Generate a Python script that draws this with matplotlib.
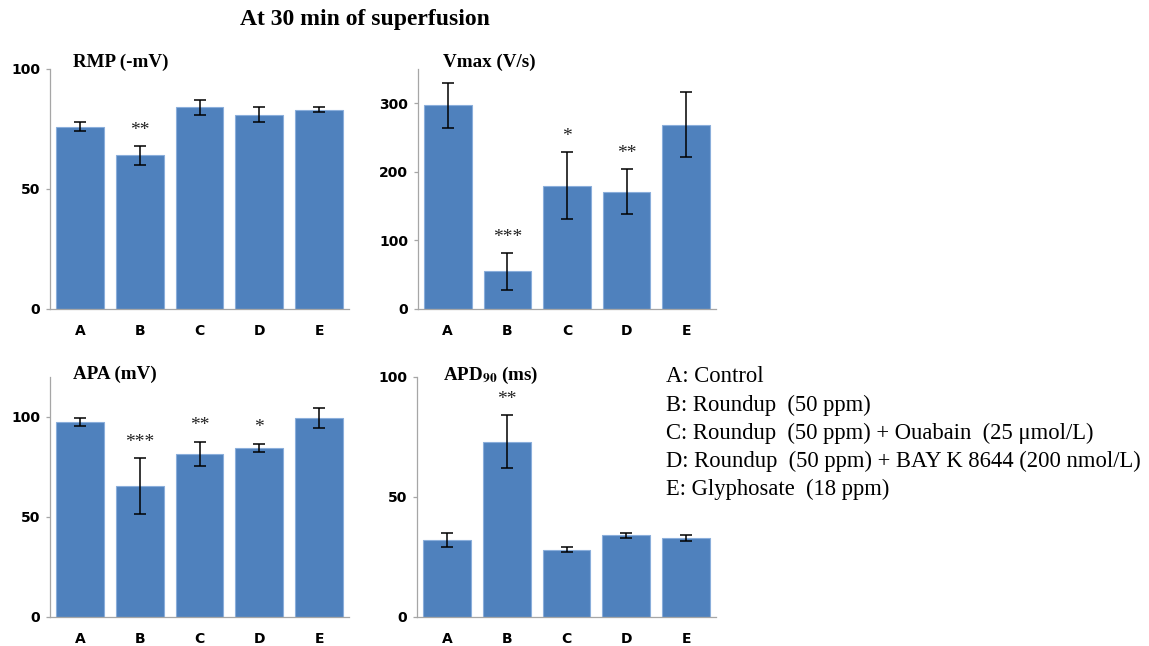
import numpy as np
import matplotlib.pyplot as plt

plt.rcParams['mathtext.fontset'] = 'stix'

groups = ['A', 'B', 'C', 'D', 'E']

rmp = [76, 64, 84, 81, 83]
rmp_err = [2, 4, 3, 3, 1]
rmp_stars = ['', '**', '', '', '']

vmax = [297, 55, 180, 171, 269]
vmax_err = [33, 27, 49, 33, 48]
vmax_stars = ['', '***', '*', '**', '']

apa = [97.5, 65.5, 81.7, 84.7, 99.5]
apa_err = [2, 14, 6, 2, 5]
apa_stars = ['', '***', '**', '*', '']

apd90 = [32, 73, 28, 34, 33]
apd90_err = [3, 11, 1, 1, 1.2]
apd90_stars = ['', '**', '', '', '']

legend_lines = ['A: Control',
                'B: Roundup  (50 ppm)',
                'C: Roundup  (50 ppm) + Ouabain  (25 \u03bcmol/L)',
                'D: Roundup  (50 ppm) + BAY K 8644 (200 nmol/L)',
                'E: Glyphosate  (18 ppm)']

W, H = 1149, 646
fig = plt.figure(figsize=(W / 100, H / 100), dpi=100)

def px(x, y):
    return x / W, 1 - y / H

def panel(left, top, right, bottom, vals, errs, stars, ymax, yticks, title, tx, ty):
    ax = fig.add_axes([left / W, 1 - bottom / H, (right - left) / W, (bottom - top) / H])
    x = np.arange(len(groups))
    ax.bar(x, vals, width=0.8, color='#4f81bd', edgecolor='#8aaedb', linewidth=0.8,
           yerr=errs, error_kw=dict(ecolor='black', elinewidth=1.1, capsize=4, capthick=1.1))
    for i in range(len(groups)):
        if stars[i]:
            ax.annotate(stars[i], (x[i], vals[i] + errs[i]), xytext=(0, 8),
                        textcoords='offset points', ha='center', va='baseline',
                        family='Liberation Serif', fontsize=14, color='#222222')
    ax.set_xlim(-0.5, len(groups) - 0.5)
    ax.set_ylim(0, ymax)
    ax.set_yticks(yticks)
    ax.set_xticks(x)
    ax.set_xticklabels(groups)
    for s in ['top', 'right']:
        ax.spines[s].set_visible(False)
    for s in ['left', 'bottom']:
        ax.spines[s].set_color('#a6a6a6')
        ax.spines[s].set_linewidth(0.9)
    ax.tick_params(axis='x', length=0, pad=11)
    ax.tick_params(axis='y', length=3, width=0.9, color='#a6a6a6', pad=4)
    for lab in ax.get_xticklabels() + ax.get_yticklabels():
        lab.set_fontsize(10)
        lab.set_fontweight('bold')
    fig.text(*px(tx, ty), title, ha='left', va='center', family='Liberation Serif',
             fontweight='bold', fontsize=13.7)
    return ax

panel(50, 69, 349, 309, rmp, rmp_err, rmp_stars, 100, [0, 50, 100], 'RMP (-mV)', 73, 62)
panel(418, 69, 716, 309, vmax, vmax_err, vmax_stars, 350, [0, 100, 200, 300], 'Vmax (V/s)', 443, 62)
panel(50, 377, 349, 617, apa, apa_err, apa_stars, 120, [0, 50, 100], 'APA (mV)', 73, 374)
panel(417, 377, 716, 617, apd90, apd90_err, apd90_stars, 100, [0, 50, 100],
      r'APD$_{\mathbf{90}}$ (ms)', 443, 375)

fig.text(*px(365, 20), 'At 30 min of superfusion', ha='center', va='center',
         family='Liberation Serif', fontweight='bold', fontsize=17)

for i, line in enumerate(legend_lines):
    fig.text(*px(666, 377 + 28.2 * i), line, ha='left', va='center',
             family='Liberation Serif', fontsize=16.3)

fig.savefig('out.png', dpi=100)
